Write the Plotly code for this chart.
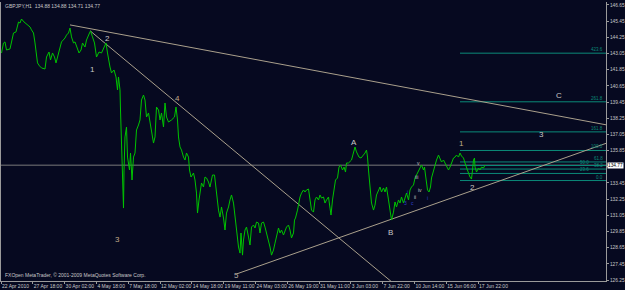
import plotly.graph_objects as go

# ---------------- data (bar index, price) ----------------
bar_index = [
    1, 5, 8, 11, 18, 21, 25, 30, 35, 38,
    41, 46, 51, 58, 61, 65, 68, 71, 73, 77,
    81, 88, 91, 96, 99, 103, 107, 110, 115, 118,
    121, 128, 131, 135, 138, 141, 145, 148, 151, 156,
    160, 163, 168, 171, 177, 179, 183, 187, 191, 196,
    201, 206, 210, 213, 215, 218, 221, 226, 230, 233,
    235, 238, 239, 241, 243, 245, 246, 248, 251, 253,
    257, 259, 262, 265, 268, 271, 275, 278, 281, 285,
    288, 291, 295, 298, 301, 305, 308, 311, 315, 318,
    321, 325, 328, 331, 335, 341, 347, 350, 353, 355,
    358, 361, 365, 368, 371, 375, 377, 380, 385, 388,
    391, 393, 396, 399, 401, 405, 408, 411, 415, 418,
    423, 427, 430, 432, 435, 438, 441, 445, 448, 451,
    455, 458, 461, 465, 468, 471, 475, 478, 480, 483,
    485, 488, 491, 495, 498, 501, 505, 508, 511, 515,
    518, 521, 525, 528, 531, 535, 538, 541, 545, 548,
    551, 555, 558, 561, 565, 568, 571, 575, 578, 581,
    585, 587, 589, 593, 595, 598, 601, 605, 608, 611,
    615, 618, 621, 625, 628, 631, 635, 638, 641, 645,
    648, 651, 655, 658, 660, 663, 666, 669, 673, 676,
    679, 683, 686, 689, 691, 695, 701, 705, 708, 711,
    716, 720, 725, 728, 731, 733, 735, 738, 741, 745,
    748, 751, 755, 758, 761, 765, 768, 771, 775, 778,
    781, 785, 788, 791, 795, 798, 801, 805, 808, 811,
    815, 818, 821, 825, 828, 831, 835, 838, 841, 845,
    847, 849, 851, 853, 856, 859, 861, 865, 868, 871,
    875, 878, 881, 885, 888, 891, 895, 898, 901, 905,
    908, 911, 915, 918, 921, 925, 928, 931, 935, 938,
    941, 943, 945, 947, 948, 951, 955, 958, 961, 965, 968,
]
close_price = [
    143.09, 143.83, 143.91, 143.31, 143.39, 143.83, 144.57, 144.65, 145.39, 145.31,
    145.61, 145.39, 145.24, 145.02, 144.80, 144.57, 143.83, 143.09, 142.35, 142.13,
    141.98, 141.90, 142.79, 143.16, 142.57, 143.09, 142.79, 142.35, 143.09, 143.46,
    143.91, 144.20, 144.42, 144.57, 144.94, 144.28, 143.83, 143.91, 143.53, 143.09,
    143.31, 143.83, 143.53, 144.05, 144.57, 144.72, 144.28, 143.83, 142.79, 143.16,
    143.09, 143.46, 143.83, 143.09, 142.57, 142.05, 141.61, 141.83, 141.31, 140.35,
    141.31, 140.35, 138.86, 136.41, 134.19, 131.59, 134.41, 136.86, 137.60, 135.37,
    134.41, 135.67, 133.67, 135.37, 135.67, 137.38, 137.75, 138.12, 139.60, 139.97,
    139.60, 138.34, 138.64, 137.90, 137.38, 136.41, 136.86, 139.08, 138.86, 138.12,
    138.64, 137.60, 139.38, 138.34, 137.97, 138.12, 138.34, 139.08, 138.12, 136.86,
    136.12, 135.89, 135.37, 135.15, 135.67, 135.37, 134.41, 133.89, 134.19, 133.67,
    132.70, 131.22, 132.19, 132.93, 133.45, 133.15, 133.89, 133.82, 133.52, 133.15,
    134.04, 134.04, 133.15, 132.19, 131.44, 130.92, 131.67, 130.85, 129.96, 131.22,
    131.67, 132.19, 132.56, 131.96, 130.92, 129.96, 128.70, 128.25, 129.74, 128.10,
    129.22, 129.96, 130.18, 129.44, 128.85, 130.18, 130.33, 130.11, 130.55, 130.48,
    129.74, 130.48, 130.55, 130.18, 129.74, 129.22, 128.70, 128.10, 128.48, 128.99,
    129.44, 130.11, 129.74, 129.96, 129.59, 129.96, 130.18, 130.33, 129.96, 129.37,
    129.74, 130.70, 130.85, 131.44, 131.96, 132.41, 132.70, 132.93, 132.78, 132.93,
    133.00, 132.19, 131.44, 131.29, 132.19, 132.41, 132.19, 132.56, 132.33, 132.41,
    131.96, 132.19, 132.41, 131.59, 131.07, 132.19, 132.93, 133.67, 133.82, 134.63,
    134.78, 134.41, 134.63, 134.26, 134.93, 134.93, 135.15, 135.67, 136.12, 135.75,
    135.37, 135.30, 135.52, 135.67, 135.89, 135.37, 134.41, 132.93, 131.96, 131.44,
    131.81, 132.56, 132.93, 133.15, 132.78, 133.08, 132.78, 133.15, 132.19, 131.44,
    130.70, 131.29, 132.04, 131.67, 132.19, 131.96, 132.41, 131.96, 132.41, 132.70,
    132.19, 132.93, 133.15, 133.30, 133.82, 134.04, 134.41, 134.56, 134.78, 134.41,
    134.63, 134.04, 133.52, 132.93, 132.78, 133.15, 133.82, 134.41, 134.78, 135.15,
    135.52, 135.30, 135.00, 135.15, 134.93, 134.63, 134.41, 134.63, 134.93, 135.30,
    135.37, 135.52, 135.37, 135.67, 135.45, 135.30, 134.93, 134.56, 134.19, 133.89,
    133.74, 134.41, 135.15, 135.30, 134.63, 134.26, 134.56, 134.41, 134.63, 134.56, 134.77,
]

symbol_title = "GBPJPY,H1  134.88 134.88 134.71 134.77"
last_price = 134.77

x_tick_bars = [0, 63.6, 127.2, 190.8, 254.4, 318, 381.6, 445.2, 508.8, 572.4,
               636, 699.6, 763.2, 826.8, 890.4, 954]
x_tick_labels = ["22 Apr 2010", "27 Apr 18:00", "30 Apr 02:00", "4 May 18:00",
                 "7 May 18:00", "12 May 02:00", "14 May 18:00", "19 May 11:00",
                 "24 May 03:00", "26 May 19:00", "31 May 11:00", "3 Jun 03:00",
                 "7 Jun 22:00", "10 Jun 14:00", "15 Jun 06:00", "17 Jun 22:00"]
y_tick_prices = [126.25, 127.45, 128.65, 129.85, 131.05, 132.25, 133.45, 134.65,
                 135.85, 137.05, 138.25, 139.45, 140.65, 141.85, 143.05, 144.25,
                 145.45, 146.65]
y_tick_labels = ["126.25", "127.45", "128.65", "129.85", "131.05", "132.25", "133.45", "",
                 "135.85", "137.05", "138.25", "139.45", "140.65", "141.85", "143.05", "144.25",
                 "145.45", "146.65"]

# trend lines (anchor points: bar, price), drawn as rays
upper_line_bars = [138, 1180]
upper_line_prices = [145.17, 137.97]
wave_line_bars = [178, 628]
wave_line_prices = [144.74, 130.85]
lower_line_bars = [471, 1191]
lower_line_prices = [126.70, 136.14]

# fibonacci
fib_levels = [0, 23.6, 38.2, 50, 61.8, 100, 161.8, 261.8, 423.6]
fib_labels = ["0.0", "23.6", "38.2", "50.0", "61.8", "100.0", "161.8", "261.8", "423.6"]
fib_label_right = [True, False, True, False, True, True, True, True, True]
fib_low = 133.63
fib_high = 135.86
fib_start_bar = 918

# wave labels
wave_text = ["1", "2", "3", "4", "5", "A", "B", "C", "3", "1", "2"]
wave_bars = [183, 213, 232, 353, 471, 705, 778, 1116, 1081, 921, 943]
wave_prices = [141.90, 144.18, 129.29, 139.73, 126.57, 136.44, 129.79, 139.90, 137.08, 136.34, 133.10]
wave_colors = ["#c8c8c8", "#c8c8c8", "#c2ab88", "#c2ab88", "#b8b0a0", "#c8c8c8",
               "#c8c8c8", "#c8c8c8", "#c8c8c8", "#c2ab88", "#c8c8c8"]

minor_text = ["v", "iii", "iv", "ii", "i", "3", "c", "i"]
minor_bars = [835, 830, 837, 828, 813, 808, 823, 853]
minor_prices = [134.95, 133.89, 132.93, 132.43, 132.80, 131.94, 131.94, 132.31]
minor_colors = ["#c0c0c0", "#c0c0c0", "#c0c0c0", "#c0c0c0", "#3040c8", "#3040c8", "#3040c8", "#3040c8"]

# ---------------- figure ----------------
BG = "#060920"
FRAME = "#9a9a9a"
TXT = "#c8c8c8"
FONT = "Liberation Sans, Arial"
X_END = 1210
Y_RANGE = [126.18, 146.87]

fig = go.Figure()


def ray(bx, py):
    slope = (py[1] - py[0]) / (bx[1] - bx[0])
    return [bx[0], X_END], [py[0], py[0] + slope * (X_END - bx[0])]


# bid line
fig.add_trace(go.Scatter(x=[0, X_END], y=[last_price, last_price], mode="lines",
                         line=dict(color="#7a7a7a", width=1), hoverinfo="skip"))

# fib lines
for lvl in fib_levels:
    p = fib_low + (fib_high - fib_low) * lvl / 100.0
    fig.add_trace(go.Scatter(x=[fib_start_bar, X_END], y=[p, p], mode="lines",
                             line=dict(color="#0b8a78", width=1), hoverinfo="skip"))

# trend lines
for bx, py in [(upper_line_bars, upper_line_prices), (wave_line_bars, wave_line_prices),
               (lower_line_bars, lower_line_prices)]:
    rx, ry = ray(bx, py)
    fig.add_trace(go.Scatter(x=rx, y=ry, mode="lines",
                             line=dict(color="#aaa08c", width=1), hoverinfo="skip"))

# price line
fig.add_trace(go.Scatter(x=bar_index, y=close_price, mode="lines",
                         line=dict(color="#00c400", width=1), hoverinfo="skip"))

annotations = []
for t, b, p, c in zip(wave_text, wave_bars, wave_prices, wave_colors):
    annotations.append(dict(x=b, y=p, xref="x", yref="y", text=t, showarrow=False,
                            font=dict(family=FONT, size=8, color=c)))
for t, b, p, c in zip(minor_text, minor_bars, minor_prices, minor_colors):
    annotations.append(dict(x=b, y=p, xref="x", yref="y", text=t, showarrow=False,
                            font=dict(family=FONT, size=5, color=c)))
for lvl, lab, right in zip(fib_levels, fib_labels, fib_label_right):
    p = fib_low + (fib_high - fib_low) * lvl / 100.0
    annotations.append(dict(x=X_END - (3 if right else 30), y=p, xref="x", yref="y", text=lab,
                            showarrow=False, xanchor="right", yanchor="bottom", yshift=-1,
                            font=dict(family=FONT, size=4.5, color="#0b8a78")))
annotations.append(dict(x=0, y=1, xref="paper", yref="paper", text=symbol_title,
                        showarrow=False, xanchor="left", yanchor="top", xshift=2, yshift=1,
                        font=dict(family=FONT, size=5, color=TXT)))
annotations.append(dict(x=0, y=0, xref="paper", yref="paper",
                        text="FXOpen MetaTrader, \u00a9 2001-2009 MetaQuotes Software Corp.",
                        showarrow=False, xanchor="left", yanchor="bottom", xshift=2, yshift=1,
                        font=dict(family=FONT, size=5, color=TXT)))
annotations.append(dict(x=1, y=last_price, xref="paper", yref="y", text="134.77",
                        showarrow=False, xanchor="left", yanchor="middle", bgcolor="#ffffff",
                        borderpad=0, xshift=1, font=dict(family=FONT, size=4.8, color="#000000")))

fig.update_layout(
    width=625, height=290,
    margin=dict(l=1, r=19, t=2, b=9, pad=0, autoexpand=False),
    paper_bgcolor=BG, plot_bgcolor=BG,
    showlegend=False,
    annotations=annotations,
    xaxis=dict(range=[0, X_END], tickmode="array", tickvals=x_tick_bars, ticktext=x_tick_labels,
               tickangle=0, automargin=False,
               ticks="outside", ticklen=2, tickcolor=FRAME, ticklabelposition="outside right",
               tickfont=dict(family=FONT, size=5, color=TXT),
               showline=True, linecolor=FRAME, linewidth=1, showgrid=False, zeroline=False),
    yaxis=dict(range=Y_RANGE, side="right", tickmode="array", tickvals=y_tick_prices,
               ticktext=y_tick_labels, ticks="outside", ticklen=2, tickcolor=FRAME,
               automargin=False,
               tickfont=dict(family=FONT, size=4.8, color=TXT),
               showline=True, mirror=True, linecolor=FRAME, linewidth=1,
               showgrid=False, zeroline=False),
)

fig.write_html("out.html")
